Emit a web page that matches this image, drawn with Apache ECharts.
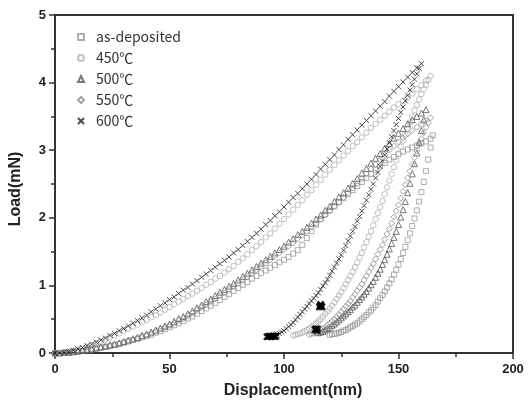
<!DOCTYPE html>
<html><head><meta charset="utf-8">
<script src="https://cdn.jsdelivr.net/npm/echarts/dist/echarts.min.js"></script>
<style>html,body{margin:0;padding:0;background:#fff}#c{width:528px;height:407px}</style>
</head><body><div id="c"></div>
<script>
// ---- data ----
const seriesNames = ['as-deposited','450℃','500℃','550℃','600℃'];
const xTicks = [0,50,100,150,200];
const yTicks = [0,1,2,3,4,5];

// loading branch: shared displacement grid (nm)
const loadDisp = [0,2,4,6,8,10,12,14,16,18,20,22,24,26,28,30,32,34,36,38,40,42,44,46,48,50,52,54,56,58,60,62,64,66,68,70,72,74,76,78,80,82,84,86,88,90,92,94,96,98,100,102,104,106,108,110,112,114,116,118,120,122,124,126,128,130,132,134,136,138,140,142,144,146,148,150,152,154,156,158,160,162,164];

const loadAsDep = [0.00,0.00,0.00,0.01,0.01,0.02,0.03,0.04,0.05,0.06,0.08,0.09,0.10,0.12,0.13,0.15,0.17,0.19,0.21,0.23,0.25,0.27,0.30,0.32,0.35,0.38,0.41,0.44,0.47,0.51,0.54,0.58,0.62,0.66,0.70,0.74,0.78,0.83,0.87,0.92,0.96,1.01,1.05,1.10,1.14,1.18,1.22,1.26,1.30,1.34,1.38,1.42,1.47,1.52,1.60,1.70,1.80,1.90,1.98,2.05,2.11,2.17,2.23,2.29,2.35,2.41,2.47,2.53,2.59,2.65,2.71,2.76,2.81,2.86,2.90,2.94,2.98,3.01,3.04,3.07,3.10,3.13,3.17];
const load450 = [0.00,0.00,0.01,0.02,0.03,0.05,0.07,0.09,0.12,0.14,0.17,0.20,0.23,0.26,0.29,0.33,0.36,0.39,0.42,0.46,0.49,0.53,0.56,0.60,0.64,0.68,0.72,0.76,0.80,0.84,0.88,0.92,0.96,1.01,1.05,1.10,1.14,1.19,1.24,1.29,1.35,1.40,1.46,1.52,1.58,1.64,1.71,1.77,1.84,1.91,1.98,2.05,2.12,2.19,2.26,2.34,2.41,2.49,2.56,2.64,2.71,2.78,2.85,2.92,2.99,3.06,3.12,3.19,3.26,3.33,3.39,3.45,3.51,3.57,3.63,3.68,3.73,3.78,3.84,3.90,3.96,4.03,4.10];
const load500 = [0.00,0.00,0.01,0.01,0.02,0.03,0.04,0.05,0.06,0.08,0.09,0.10,0.12,0.13,0.15,0.17,0.19,0.21,0.23,0.26,0.28,0.31,0.34,0.37,0.40,0.43,0.47,0.51,0.54,0.58,0.62,0.67,0.71,0.76,0.80,0.85,0.90,0.94,0.99,1.03,1.08,1.13,1.18,1.23,1.28,1.33,1.38,1.43,1.48,1.53,1.58,1.64,1.69,1.75,1.80,1.86,1.92,1.98,2.04,2.11,2.17,2.24,2.31,2.37,2.44,2.51,2.58,2.66,2.73,2.81,2.88,2.95,3.03,3.10,3.18,3.25,3.32,3.39,3.45,3.50,3.55,3.60];
const load550 = [0.00,0.00,0.01,0.01,0.02,0.03,0.04,0.05,0.06,0.07,0.08,0.10,0.11,0.13,0.14,0.16,0.18,0.20,0.22,0.24,0.27,0.29,0.32,0.35,0.38,0.41,0.44,0.48,0.51,0.55,0.59,0.63,0.67,0.71,0.76,0.80,0.85,0.89,0.94,0.98,1.03,1.08,1.13,1.18,1.23,1.28,1.33,1.38,1.43,1.48,1.53,1.58,1.63,1.69,1.74,1.80,1.86,1.92,1.98,2.04,2.10,2.17,2.23,2.30,2.37,2.44,2.51,2.58,2.65,2.72,2.79,2.86,2.93,3.00,3.06,3.12,3.18,3.24,3.29,3.34,3.39,3.44,3.48];
const load600 = [0.00,0.00,0.01,0.02,0.04,0.06,0.08,0.11,0.13,0.16,0.19,0.22,0.26,0.29,0.33,0.36,0.40,0.44,0.48,0.52,0.56,0.61,0.65,0.70,0.74,0.79,0.83,0.88,0.93,0.97,1.02,1.07,1.12,1.17,1.22,1.27,1.32,1.37,1.42,1.48,1.53,1.59,1.65,1.71,1.77,1.83,1.90,1.96,2.03,2.09,2.16,2.23,2.30,2.36,2.43,2.50,2.57,2.64,2.72,2.79,2.86,2.93,3.01,3.08,3.16,3.23,3.30,3.37,3.44,3.51,3.58,3.65,3.72,3.80,3.87,3.94,4.01,4.08,4.15,4.22,4.28];

// unloading branch: [displacement nm, load mN]
const unloadAsDep = [[120,0.27],[121,0.28],[122,0.28],[123,0.29],[124,0.30],[125,0.31],[126,0.33],[127,0.34],[128,0.36],[129,0.38],[130,0.40],[131,0.42],[132,0.44],[133,0.47],[134,0.50],[135,0.53],[136,0.56],[137,0.60],[138,0.63],[139,0.67],[140,0.71],[141,0.76],[142,0.81],[143,0.86],[144,0.91],[145,0.97],[146,1.03],[147,1.09],[148,1.16],[149,1.23],[150,1.31],[151,1.39],[152,1.48],[153,1.57],[154,1.67],[155,1.77],[156,1.88],[157,1.99],[158,2.11],[159,2.24],[160,2.38],[161,2.53],[162,2.69],[163,2.86],[164,3.04],[165,3.22]];
const unload450 = [[104,0.26],[105,0.27],[106,0.28],[107,0.29],[108,0.30],[109,0.32],[110,0.34],[111,0.36],[112,0.38],[113,0.41],[114,0.44],[115,0.47],[116,0.50],[117,0.54],[118,0.58],[119,0.62],[120,0.66],[121,0.70],[122,0.75],[123,0.80],[124,0.85],[125,0.90],[126,0.96],[127,1.02],[128,1.08],[129,1.14],[130,1.20],[131,1.27],[132,1.34],[133,1.41],[134,1.48],[135,1.56],[136,1.64],[137,1.72],[138,1.80],[139,1.89],[140,1.98],[141,2.07],[142,2.16],[143,2.25],[144,2.35],[145,2.45],[146,2.55],[147,2.65],[148,2.75],[149,2.85],[150,2.95],[151,3.05],[152,3.14],[153,3.23],[154,3.32],[155,3.41],[156,3.50],[157,3.59],[158,3.67],[159,3.75],[160,3.83],[161,3.90],[162,3.97],[163,4.04]];
const unload500 = [[115,0.30],[116,0.31],[117,0.32],[118,0.34],[119,0.36],[120,0.38],[121,0.41],[122,0.43],[123,0.46],[124,0.49],[125,0.52],[126,0.55],[127,0.58],[128,0.61],[129,0.64],[130,0.68],[131,0.71],[132,0.75],[133,0.79],[134,0.83],[135,0.87],[136,0.91],[137,0.96],[138,1.01],[139,1.06],[140,1.12],[141,1.18],[142,1.24],[143,1.31],[144,1.38],[145,1.46],[146,1.54],[147,1.62],[148,1.71],[149,1.80],[150,1.90],[151,2.01],[152,2.12],[153,2.24],[154,2.37],[155,2.51],[156,2.65],[157,2.80],[158,2.96],[159,3.12],[160,3.29],[161,3.45]];
const unload550 = [[111,0.27],[112,0.28],[113,0.29],[114,0.30],[115,0.32],[116,0.34],[117,0.36],[118,0.38],[119,0.41],[120,0.44],[121,0.47],[122,0.50],[123,0.54],[124,0.57],[125,0.61],[126,0.65],[127,0.69],[128,0.73],[129,0.77],[130,0.82],[131,0.87],[132,0.92],[133,0.97],[134,1.02],[135,1.08],[136,1.14],[137,1.20],[138,1.26],[139,1.32],[140,1.39],[141,1.46],[142,1.53],[143,1.60],[144,1.68],[145,1.76],[146,1.84],[147,1.92],[148,2.01],[149,2.10],[150,2.19],[151,2.29],[152,2.39],[153,2.49],[154,2.59],[155,2.69],[156,2.79],[157,2.89],[158,2.99],[159,3.08],[160,3.17],[161,3.26],[162,3.34],[163,3.41]];
const unload600 = [[94,0.24],[95,0.25],[96,0.26],[97,0.28],[98,0.29],[99,0.31],[100,0.33],[101,0.36],[102,0.39],[103,0.42],[104,0.45],[105,0.49],[106,0.53],[107,0.57],[108,0.61],[109,0.65],[110,0.69],[111,0.73],[112,0.77],[113,0.81],[114,0.85],[115,0.89],[116,0.94],[117,0.99],[118,1.04],[119,1.09],[120,1.15],[121,1.21],[122,1.27],[123,1.33],[124,1.39],[125,1.45],[126,1.52],[127,1.59],[128,1.66],[129,1.73],[130,1.80],[131,1.87],[132,1.95],[133,2.02],[134,2.10],[135,2.18],[136,2.26],[137,2.34],[138,2.42],[139,2.50],[140,2.59],[141,2.67],[142,2.76],[143,2.84],[144,2.93],[145,3.02],[146,3.11],[147,3.20],[148,3.29],[149,3.38],[150,3.47],[151,3.56],[152,3.64],[153,3.73],[154,3.81],[155,3.89],[156,3.97],[157,4.05],[158,4.13],[159,4.21]];
// dense hold clusters (overlapping × marks)
const hold600 = [[92.5,0.24],[93,0.24],[93.5,0.25],[94,0.25],[94.5,0.24],[95,0.25],[95.5,0.25],[96,0.24],[96.5,0.25],[115.4,0.68],[115.7,0.70],[116,0.72],[116.3,0.70],[116.6,0.68],[116,0.69],[113.5,0.34],[113.8,0.36],[114.1,0.35],[114.4,0.33],[114.7,0.36]];

// ---- build ----
function loadPairs(arr){ const out=[]; for(let i=0;i<arr.length&&i<loadDisp.length;i++) out.push([loadDisp[i],arr[i]]); return out; }
const xPath = 'path://M0,0L10,10M10,0L0,10';

const defs = [
  {name:seriesNames[0], data: loadPairs(loadAsDep).concat(unloadAsDep), symbol:'rect', size:5, color:'#9a9a9a', bw:1},
  {name:seriesNames[1], data: loadPairs(load450).concat(unload450), symbol:'circle', size:5.5, color:'#b0b0b0', bw:1},
  {name:seriesNames[2], data: loadPairs(load500).concat(unload500), symbol:'triangle', size:6, color:'#555555', bw:1},
  {name:seriesNames[3], data: loadPairs(load550).concat(unload550), symbol:'diamond', size:6, color:'#8c8c8c', bw:1},
  {name:seriesNames[4], data: loadPairs(load600).concat(unload600), symbol:xPath, size:5, color:'#1e1e1e', bw:1},
  {name:seriesNames[4], data: hold600, symbol:xPath, size:6, color:'#000000', bw:2.2}
];

const chart = echarts.init(document.getElementById('c'), null, {renderer:'canvas'});
const axisCommon = {
  axisLine:{show:true, onZero:false, lineStyle:{color:'#333', width:2}},
  axisTick:{show:true, inside:false, length:6, lineStyle:{color:'#333', width:1.5}},
  minorTick:{show:true, splitNumber:2, length:4, lineStyle:{color:'#333', width:1.5}},
  splitLine:{show:false},
  axisLabel:{color:'#222', fontFamily:'Liberation Sans', fontWeight:'bold', fontSize:13},
  nameTextStyle:{color:'#222', fontFamily:'Liberation Sans', fontWeight:'bold', fontSize:16}
};
chart.setOption({
  animation:false,
  backgroundColor:'#fff',
  grid:{left:53, right:15, top:15, bottom:54, show:true, borderColor:'#333', borderWidth:2, backgroundColor:'transparent'},
  legend:{
    orient:'vertical', left:72, top:25, itemWidth:6, itemHeight:6, itemGap:7,
    textStyle:{color:'#333', fontFamily:'Noto Sans CJK KR', fontSize:14, padding:[0,0,0,7]},
    data:seriesNames
  },
  xAxis:Object.assign({}, axisCommon, {
    type:'value', min:xTicks[0], max:xTicks[xTicks.length-1], interval:50,
    name:'Displacement(nm)', nameLocation:'middle', nameGap:30,
    axisLabel:Object.assign({}, axisCommon.axisLabel, {margin:10}),
    nameTextStyle:Object.assign({}, axisCommon.nameTextStyle, {padding:[0,0,0,18]})
  }),
  yAxis:Object.assign({}, axisCommon, {
    type:'value', min:yTicks[0], max:yTicks[yTicks.length-1], interval:1,
    name:'Load(mN)', nameLocation:'middle', nameGap:31,
    axisLabel:Object.assign({}, axisCommon.axisLabel, {margin:9}),
    nameTextStyle:Object.assign({}, axisCommon.nameTextStyle, {padding:[0,10,0,0]})
  }),
  series: defs.map(d=>({
    name:d.name, type:'scatter', data:d.data, symbol:d.symbol, symbolSize:d.size,
    itemStyle:{color:'rgba(255,255,255,0)', borderColor:d.color, borderWidth:d.bw},
    emphasis:{disabled:true}
  }))
});
</script></body></html>
